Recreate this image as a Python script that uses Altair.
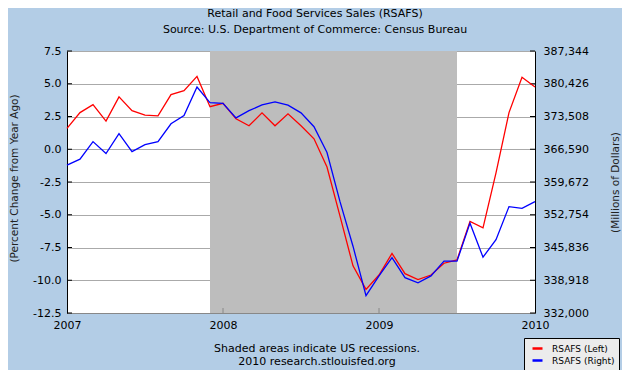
import altair as alt
import pandas as pd

FONT = "DejaVu Sans"

TITLE_LINES = ["Retail and Food Services Sales (RSAFS)",
               "Source: U.S. Department of Commerce: Census Bureau"]
FOOTER_LINES = ["Shaded areas indicate US recessions.",
                "2010 research.stlouisfed.org"]
SERIES = ["RSAFS (Left)", "RSAFS (Right)"]
COLORS = ["#ff0000", "#0000ff"]
LEFT_TITLE = "(Percent Change from Year Ago)"
RIGHT_TITLE = "(Millions of Dollars)"

months = [f"{y}-{m:02d}" for y in (2007, 2008, 2009) for m in range(1, 13)] + ["2010-01"]

pct_change = [1.6, 2.8, 3.4, 2.15, 4.0, 2.95, 2.6, 2.55, 4.17, 4.47, 5.56, 3.25,
              3.51, 2.32, 1.79, 2.78, 1.79, 2.7, 1.8, 0.8, -1.36, -5.1, -8.9, -10.7,
              -9.6, -7.95, -9.5, -9.95, -9.6, -8.7, -8.45, -5.5, -6.0, -1.8, 2.8, 5.5,
              4.75]

sales_millions = [363240, 364490, 368200, 365680, 369880, 366090, 367560, 368200,
                  371960, 373730, 379730, 376440, 376300, 373230, 374750, 375940,
                  376580, 375890, 374280, 371350, 365900, 355520, 346110, 335650,
                  339830, 343680, 339470, 338360, 339830, 342960, 342960, 350980,
                  343790, 347500, 354470, 354110, 355520]

recession_start = "2007-12"
recession_end = "2009-07"

left_ticks = [-12.5, -10.0, -7.5, -5.0, -2.5, 0.0, 2.5, 5.0, 7.5]
right_ticks = [332000, 338918, 345836, 352754, 359672, 366590, 373508, 380426, 387344]
year_ticks = [2007, 2008, 2009, 2010]


def to_year(s):
    y, m = s.split("-")
    return int(y) + (int(m) - 1) / 12.0


W, H = 468, 262

df = pd.DataFrame({"t": [to_year(m) for m in months],
                   "pct": pct_change,
                   "sales": sales_millions})

xscale = alt.Scale(domain=[year_ticks[0], year_ticks[-1]], nice=False, zero=False)
xaxis = alt.Axis(values=year_ticks, format="d", title=None, grid=False, ticks=False,
                 domainColor="#888888", labelPadding=6, labelFlush=False)
lscale = alt.Scale(domain=[left_ticks[0], left_ticks[-1]], nice=False, zero=False)
rscale = alt.Scale(domain=[right_ticks[0], right_ticks[-1]], nice=False, zero=False)
cscale = alt.Scale(domain=SERIES, range=COLORS)
legend = alt.Legend(orient="none", legendX=457, legendY=287, title=None,
                    fillColor="#ececec", strokeColor="black", padding=4,
                    symbolType="stroke", symbolSize=100, symbolStrokeWidth=2.5,
                    labelFontSize=9, labelFont=FONT, labelColor="black",
                    rowPadding=0, symbolOffset=3, labelOffset=8)

rec = alt.Chart(pd.DataFrame({"s": [to_year(recession_start)],
                              "e": [to_year(recession_end)]})).mark_rect(
    color="#bdbdbd").encode(
    x=alt.X("s:Q", scale=xscale, axis=xaxis), x2="e:Q")

red = alt.Chart(df).transform_calculate(series=f"'{SERIES[0]}'").mark_line(
    strokeWidth=1.3).encode(
    x=alt.X("t:Q", scale=xscale, axis=xaxis),
    y=alt.Y("pct:Q", scale=lscale,
            axis=alt.Axis(orient="left", values=left_ticks,
                          labelExpr="(datum.value < 0 ? '-' : '') + format(abs(datum.value), '.1f')",
                          title=LEFT_TITLE, grid=True, gridColor="#aaaaaa",
                          ticks=False, domainColor="black", labelPadding=6,
                          titleX=-53, titleY=127, titleAngle=270,
                          titleBaseline="middle", titleAlign="center",
                          titleFontSize=10.5, titleColor="#222222")),
    color=alt.Color("series:N", scale=cscale, legend=legend))

blue = alt.Chart(df).transform_calculate(series=f"'{SERIES[1]}'").mark_line(
    strokeWidth=1.3).encode(
    x=alt.X("t:Q", scale=xscale, axis=xaxis),
    y=alt.Y("sales:Q", scale=rscale,
            axis=alt.Axis(orient="right", values=right_ticks, format=",d",
                          title=RIGHT_TITLE, grid=False, ticks=False,
                          domainColor="black", labelPadding=8,
                          titleX=80, titleY=H / 2, titleAngle=270,
                          titleBaseline="middle", titleAlign="center",
                          titleFontSize=10.5, titleColor="#222222")),
    color=alt.Color("series:N", scale=cscale, legend=legend))

tick_df = pd.DataFrame({"v": left_ticks})
lticks = alt.Chart(tick_df).mark_rule(color="black").encode(
    y=alt.Y("v:Q", scale=lscale, axis=None), x=alt.value(0), x2=alt.value(5))
rticks = alt.Chart(tick_df).mark_rule(color="black").encode(
    y=alt.Y("v:Q", scale=lscale, axis=None), x=alt.value(W - 5), x2=alt.value(W))
xticks = alt.Chart(pd.DataFrame({"yr": year_ticks[1:-1]})).mark_rule(color="#888888").encode(
    x=alt.X("yr:Q", scale=xscale, axis=xaxis), y=alt.value(H - 5), y2=alt.value(H))


def text_layer(s, x, y):
    return alt.Chart(pd.DataFrame({"txt": [s]})).mark_text(
        font=FONT, fontSize=11, color="black", align="center", baseline="middle").encode(
        text="txt:N", x=alt.value(x), y=alt.value(y))


texts = [text_layer(TITLE_LINES[0], 248, -37),
         text_layer(TITLE_LINES[1], 248, -21),
         text_layer(FOOTER_LINES[0], 250, 298),
         text_layer(FOOTER_LINES[1], 250, 311)]

chart = alt.layer(rec, lticks, rticks, xticks, red, blue, *texts).resolve_scale(
    y="independent").properties(
    width=W, height=H,
    padding={"left": 59, "top": 43, "right": 87, "bottom": 57},
    autosize=alt.AutoSizeParams(type="none"),
    background="#b3cde6",
).configure_view(stroke="#999999", fill="white").configure_axis(
    labelFont=FONT, titleFont=FONT, labelFontSize=11, titleFontSize=11,
    labelColor="black", titleColor="black", titleFontWeight="normal")

chart.save("out.html", embed_options={"renderer": "svg", "actions": False})
